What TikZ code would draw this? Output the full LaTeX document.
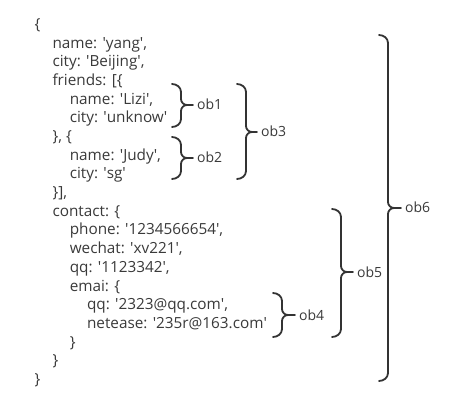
\documentclass[tikz,border=0pt]{standalone}
\usepackage{fontspec}
\setmainfont{Open Sans}
\newcommand\jq{\textquotesingle}
\definecolor{txt}{HTML}{3A3A3A}
\definecolor{brc}{HTML}{333333}
\newcommand\jbrace[6]{%
  \draw[brc] (#1,#4) to[out=0,in=90] (#2,{#4+8}) -- (#2,{#5-6})
     to[out=-90,in=180] ({#2+6},#5) to[out=180,in=90] (#2,{#5+6})
     -- (#2,{#6-8}) to[out=-90,in=0] (#1,#6);
  \draw[brc] ({#2+6},#5) -- (#3,#5);}
\tikzset{
  code/.style={anchor=base west, inner sep=0pt, text=txt, font=\fontsize{15.3}{18}\selectfont},
  lbl/.style={anchor=base west, inner sep=0pt, text=txt, font=\fontsize{14}{16}\selectfont},
  brc/.style={draw=brc, line width=1.8pt, line cap=round, line join=round}
}
\begin{document}
\begin{tikzpicture}[x=1pt,y=-1pt]
\fill[white] (0,0) rectangle (457,411);
\useasboundingbox (0,0) rectangle (457,411);
% code lines: baseline = 29.5 + 18.68 i ; indent 35 + 17.3 k
\node[code] (l0)  at (34.5, 29.5)  {\{};
\node[code] (l1)  at (52.3, 48.2)  {name: \jq yang\jq,};
\node[code] (l2)  at (52.3, 66.9)  {city: \jq Beijing\jq,};
\node[code] (l3)  at (52.3, 85.5)  {friends: [\{};
\node[code] (l4)  at (69.6, 104.2) {name: \jq Lizi\jq,};
\node[code] (l5)  at (69.6, 122.9) {city: \jq unknow\jq};
\node[code] (l6)  at (52.3, 141.6) {\}, \{};
\node[code] (l7)  at (69.6, 160.3) {name: \jq Judy\jq,};
\node[code] (l8)  at (69.6, 178.9) {city: \jq sg\jq};
\node[code] (l9)  at (52.3, 197.6) {\}],};
\node[code] (l10) at (52.3, 216.3) {contact: \{};
\node[code] (l11) at (69.6, 235.0) {phone: \jq 1234566654\jq,};
\node[code] (l12) at (69.6, 253.7) {wechat: \jq xv221\jq,};
\node[code] (l13) at (69.6, 272.3) {qq: \jq 1123342\jq,};
\node[code] (l14) at (69.6, 291.0) {emai: \{};
\node[code] (l15) at (86.9, 309.7) {qq: \jq 2323@qq.com\jq,};
\node[code] (l16) at (86.9, 328.4) {netease: \jq 235r@163.com\jq};
\node[code] (l17) at (69.6, 347.1) {\}};
\node[code] (l18) at (52.3, 365.7) {\}};
\node[code] (l19) at (34.5, 384.4) {\}};
% braces
\jbrace{172}{181}{193}{84}{105}{127}
\jbrace{172}{181}{193}{137}{158}{179}
\jbrace{237}{246}{257}{84}{132}{179}
\jbrace{273}{282}{295}{293}{315}{337}
\jbrace{332}{341}{353}{209}{272}{337}
\jbrace{379}{388}{401}{35}{208}{381}
% labels
\node[lbl] (ob1) at (197,110) {ob1};
\node[lbl] (ob2) at (197,163) {ob2};
\node[lbl] (ob3) at (261,137) {ob3};
\node[lbl] (ob4) at (299,320) {ob4};
\node[lbl] (ob5) at (357,277) {ob5};
\node[lbl] (ob6) at (405,213) {ob6};
\end{tikzpicture}
\end{document}
